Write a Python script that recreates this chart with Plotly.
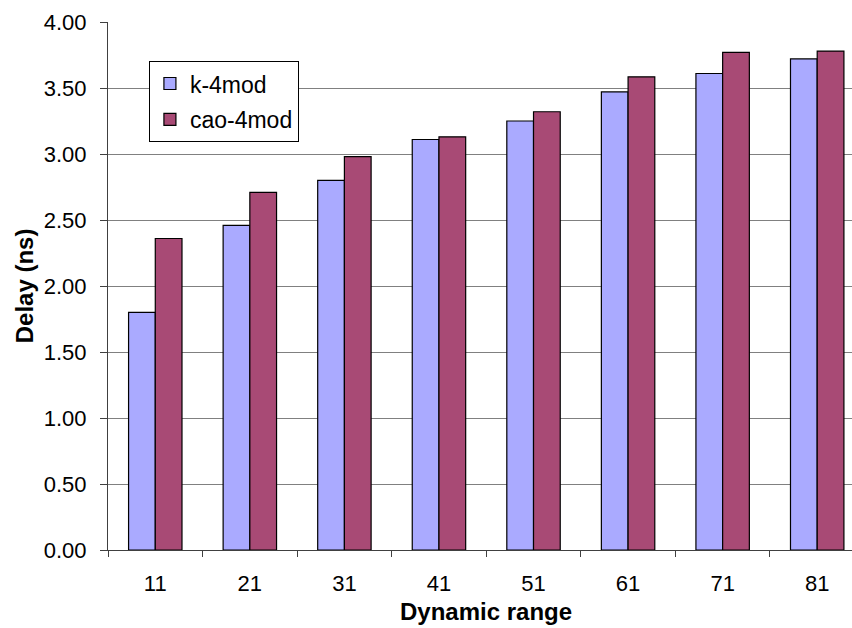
import plotly.graph_objects as go

categories = ["11", "21", "31", "41", "51", "61", "71", "81"]
k_4mod = [1.80, 2.46, 2.80, 3.11, 3.25, 3.47, 3.61, 3.72]
cao_4mod = [2.36, 2.71, 2.98, 3.13, 3.32, 3.585, 3.77, 3.78]
y_ticks = [0, 0.5, 1.0, 1.5, 2.0, 2.5, 3.0, 3.5, 4.0]
y_tick_labels = ["%.2f" % v for v in y_ticks]

FONT = "Arial, Liberation Sans, sans-serif"

fig = go.Figure()
fig.add_trace(go.Bar(name="k-4mod", x=categories, y=k_4mod, legendgroup="a",
                     marker=dict(color="#AAAAFF", line=dict(color="#000000", width=1.2))))
fig.add_trace(go.Bar(name="cao-4mod", x=categories, y=cao_4mod, legendgroup="b",
                     marker=dict(color="#A84A75", line=dict(color="#000000", width=1.2))))

fig.update_layout(
    width=852, height=628,
    margin=dict(l=108, r=0, t=22, b=78),
    paper_bgcolor="white", plot_bgcolor="white",
    barmode="group", bargap=0.435, bargroupgap=0,
    font=dict(family=FONT, size=22, color="#000000"),
    showlegend=True,
    legend=dict(x=0.055, y=0.926, xanchor="left", yanchor="top",
                bordercolor="#000000", borderwidth=1, bgcolor="white",
                font=dict(size=23), traceorder="grouped", tracegroupgap=3),
    xaxis=dict(type="category", range=[-0.5, 7.368], tickson="boundaries",
               ticks="outside", ticklen=6, tickcolor="#404040",
               showline=True, linecolor="#404040", linewidth=1,
               showgrid=False, ticklabelstandoff=14, fixedrange=True),
    yaxis=dict(range=[0, 4.0], tickvals=y_ticks, ticktext=y_tick_labels,
               ticks="outside", ticklen=7, tickcolor="#404040",
               showline=True, linecolor="#404040", linewidth=1,
               showgrid=True, gridcolor="#808080", gridwidth=1,
               zeroline=False, ticklabelstandoff=9, fixedrange=True),
    annotations=[
        dict(text="<b>Dynamic range</b>", xref="paper", yref="paper",
             x=0.5076, y=-0.1174, xanchor="center", yanchor="middle",
             showarrow=False, font=dict(size=24)),
        dict(text="<b>Delay (ns)</b>", xref="paper", yref="paper",
             x=-0.1125, y=0.5, xanchor="center", yanchor="middle",
             textangle=-90, showarrow=False, font=dict(size=24)),
    ],
)

fig.write_html("out.html")
